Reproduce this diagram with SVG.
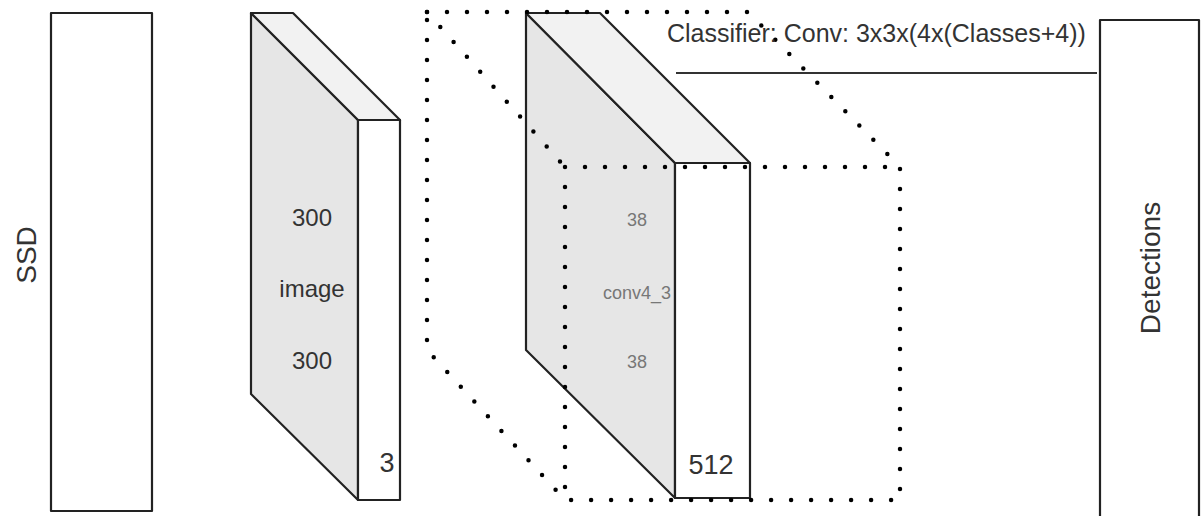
<svg xmlns="http://www.w3.org/2000/svg" width="1202" height="516" viewBox="0 0 1202 516">
<style>
.edge{stroke:#222;stroke-width:2.2;stroke-linejoin:round}
.side{fill:#e6e6e6}
.top{fill:#f2f2f2}
.face{fill:#fff}
.dot{fill:none;stroke:#000;stroke-width:4.5;stroke-linecap:round;stroke-dasharray:0 20}
.lbl{font-family:"Liberation Sans",Arial,sans-serif;fill:#333;text-anchor:middle}
.small{font-family:"Liberation Sans",Arial,sans-serif;fill:#777;text-anchor:middle;font-size:18px}
</style>
<rect width="1202" height="516" fill="#fff"/>
<g id="ssd">
<rect x="51" y="13" width="101" height="498" class="edge" fill="#fff"/>
<text class="lbl" font-size="28" transform="translate(36,255) rotate(-90)">SSD</text>
</g>
<g id="image-block">
<polygon class="edge side" points="251,13 358,120 358,500 251,394"/>
<polygon class="edge top" points="251,13 293,13 400,120 358,120"/>
<rect class="edge face" x="358" y="120" width="42" height="380"/>
<text class="lbl" font-size="24" x="312" y="226">300</text>
<text class="lbl" font-size="24" x="312" y="297">image</text>
<text class="lbl" font-size="24" x="312" y="369">300</text>
<text class="lbl" font-size="27" x="387" y="472">3</text>
</g>
<g id="conv4_3-block">
<polygon class="edge side" points="526,13 675,163 675,498 526,350"/>
<polygon class="edge top" points="526,13 600,13 750,163 675,163"/>
<rect class="edge face" x="675" y="163" width="75" height="335"/>
<text class="small" x="637" y="226">38</text>
<text class="small" x="637" y="299">conv4_3</text>
<text class="small" x="637" y="368">38</text>
<text class="lbl" font-size="27" x="711" y="474">512</text>
</g>
<g id="classifier-volume">
<path class="dot" d="M427,12 L748,12 L900,167 L900,500 L565,500 L427,350 Z"/>
<path class="dot" d="M427,12 L565,167 M565,167 L900,167 M565,167 L565,500"/>
</g>
<g id="detections">
<rect x="1100" y="20" width="99" height="520" class="edge" fill="#fff"/>
<text class="lbl" font-size="28" transform="translate(1160,268) rotate(-90)">Detections</text>
</g>
<g id="connectors">
<line x1="676" y1="73" x2="1097" y2="73" stroke="#333" stroke-width="2"/>
<text class="lbl" font-size="25" x="667" y="42" style="text-anchor:start">Classifier: Conv: 3x3x(4x(Classes+4))</text>
</g>
</svg>
